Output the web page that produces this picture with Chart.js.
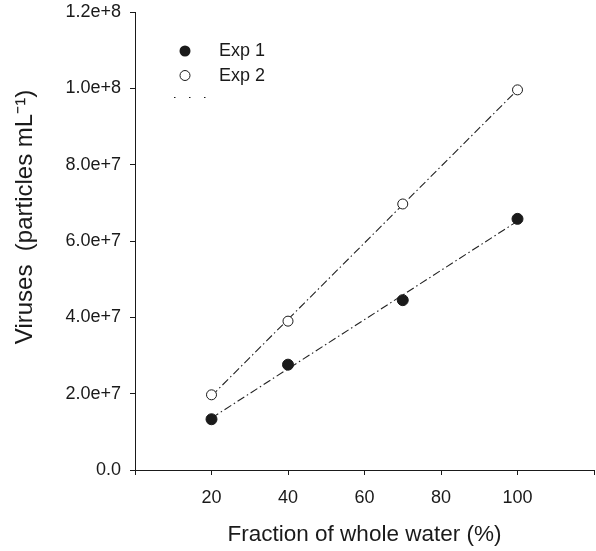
<!DOCTYPE html>
<html>
<head>
<meta charset="utf-8">
<script src="https://cdn.jsdelivr.net/npm/chart.js@4"></script>
<style>
  html, body { margin: 0; padding: 0; background: #fff; }
  canvas { display: block; }
</style>
</head>
<body>
<canvas id="viruses" width="596" height="551"></canvas>
<script>
// values
const fraction = [20, 40, 70, 100];
const exp1 = [1.33e7, 2.76e7, 4.45e7, 6.58e7];
const exp2 = [1.97e7, 3.90e7, 6.97e7, 9.96e7];
// fitted lines, end points
const fitX = [20, 100];
const fit1 = [1.36e7, 6.52e7];
const fit2 = [1.94e7, 9.96e7];
const xTicks = [0, 20, 40, 60, 80, 100, 120];
const yTicks = [0, 2e7, 4e7, 6e7, 8e7, 1e8, 1.2e8];

const ink = '#1a1a1a';
const fontFam = '"Liberation Sans", Arial, Helvetica, sans-serif';

function pts(xs, ys) {
  return xs.map((x, i) => ({x: x, y: ys[i]}));
}

// drop the extra room chart.js keeps for end labels, the layout padding does it
function noEdge(s) {
  s.paddingTop = 0; s.paddingBottom = 0;
  s.paddingLeft = 0; s.paddingRight = 0;
}

// y title and the little legend sit inside the plot, drawn by hand
const extras = {
  id: 'extras',
  afterDraw(chart) {
    const c = chart.ctx;
    c.save();
    c.fillStyle = ink;
    c.strokeStyle = ink;
    // y axis title
    c.save();
    c.translate(25, 217);
    c.rotate(-Math.PI / 2);
    c.font = '24px ' + fontFam;
    c.textAlign = 'center';
    c.textBaseline = 'middle';
    c.fillText('Viruses  (particles mL\u207B\u00B9)', 0, 0);
    c.restore();
    // legend
    c.beginPath();
    c.arc(185, 51, 5.5, 0, Math.PI * 2);
    c.fill();
    c.beginPath();
    c.lineWidth = 1;
    c.arc(185, 75.5, 5, 0, Math.PI * 2);
    c.fillStyle = '#fff';
    c.fill();
    c.stroke();
    c.fillStyle = ink;
    c.font = '18px ' + fontFam;
    c.textAlign = 'left';
    c.textBaseline = 'middle';
    c.fillText('Exp 1', 219, 51);
    c.fillText('Exp 2', 219, 76);
    c.setLineDash([1.5, 13.5]);
    c.beginPath();
    c.moveTo(174, 97.5);
    c.lineTo(207, 97.5);
    c.stroke();
    c.restore();
  }
};

const ctx = document.getElementById('viruses').getContext('2d');
const chart = new Chart(ctx, {
  type: 'scatter',
  data: {
    datasets: [
      {
        label: 'Exp 1',
        data: pts(fraction, exp1),
        pointRadius: 5.5,
        pointBackgroundColor: ink,
        pointBorderColor: ink,
        pointBorderWidth: 1,
        showLine: false
      },
      {
        label: 'Exp 2',
        data: pts(fraction, exp2),
        pointRadius: 5,
        pointBackgroundColor: '#fff',
        pointBorderColor: ink,
        pointBorderWidth: 1,
        showLine: false
      },
      {
        label: 'fit 1',
        data: pts(fitX, fit1),
        showLine: true,
        pointRadius: 0,
        borderColor: '#222',
        borderWidth: 1.1,
        borderDash: [8, 3, 1.5, 3]
      },
      {
        label: 'fit 2',
        data: pts(fitX, fit2),
        showLine: true,
        pointRadius: 0,
        borderColor: '#222',
        borderWidth: 1.1,
        borderDash: [8, 3, 1.5, 3]
      }
    ]
  },
  options: {
    responsive: false,
    animation: false,
    layout: { autoPadding: false, padding: { top: 12, right: 2, left: 0, bottom: 0 } },
    plugins: {
      legend: { display: false },
      tooltip: { enabled: false }
    },
    scales: {
      x: {
        type: 'linear',
        min: 0,
        max: 120,
        afterBuildTicks: (s) => { s.ticks = xTicks.map(v => ({value: v})); },
        afterFit: (s) => { s.height = 81; noEdge(s); },
        ticks: {
          color: ink,
          padding: 12,
          font: { size: 18, family: fontFam },
          callback: (v) => (v === 0 || v === 120) ? '' : String(v)
        },
        grid: { drawOnChartArea: false, drawTicks: true, tickLength: 5, color: ink },
        border: { color: ink, width: 1 },
        title: {
          display: true,
          text: 'Fraction of whole water (%)',
          color: ink,
          font: { size: 22.5, family: fontFam },
          padding: { top: 0, bottom: 3 }
        }
      },
      y: {
        type: 'linear',
        min: 0,
        max: 1.2e8,
        afterBuildTicks: (s) => { s.ticks = yTicks.map(v => ({value: v})); },
        afterFit: (s) => { s.width = 135; noEdge(s); },
        ticks: {
          color: ink,
          padding: 9,
          font: { size: 18, family: fontFam },
          callback: (v) => v === 0 ? '0.0' : v.toExponential(1)
        },
        grid: { drawOnChartArea: false, drawTicks: true, tickLength: 5, color: ink },
        border: { color: ink, width: 1 }
      }
    }
  },
  plugins: [extras]
});
</script>
</body>
</html>
